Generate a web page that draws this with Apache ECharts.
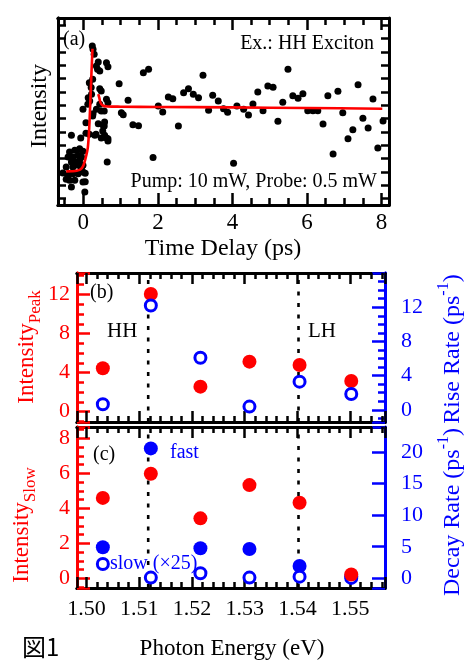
<!DOCTYPE html>
<html><head><meta charset="utf-8">
<script src="https://cdn.jsdelivr.net/npm/echarts@6/dist/echarts.min.js"></script>
<style>html,body{margin:0;padding:0;background:#fff}#c{width:473px;height:661px}</style>
</head><body><div id="c"></div>
<script>
// ---------- panel (a): pump-probe trace ----------
const delayPs = [0.24,0.26,0.29,0.40,0.35,0.38,0.44,0.62,0.66,0.96,0.44,0.48,0.13,0.17,0.22,0.62,0.66,1.20,-0.01,0.44,0.48,0.35,1.02,0.26,0.40,0.53,0.57,1.07,1.33,1.48,-0.32,-0.07,0.31,0.48,0.66,0.57,0.64,1.87,
 -0.37,-0.23,-0.10,-0.01,-0.41,-0.28,-0.14,-0.05,-0.32,-0.19,-0.10,-0.01,-0.46,-0.28,-0.14,-0.05,-0.41,-0.28,-0.14,-0.01,-0.37,-0.23,-0.01,-0.32,0.04,
 0.05,0.05,-0.55,-0.46,0.07,0.16,0.21,0.25,0.12,0.25,0.07,0.56,0.52,0.61,0.66,0.34,0.16,0.56,
 1.61,1.75,2.01,2.13,2.28,2.40,2.55,2.69,2.82,2.95,3.09,3.21,3.36,3.47,3.62,3.76,3.87,
 4.03,4.12,4.30,4.43,4.55,4.68,4.82,4.95,5.09,5.22,5.35,5.49,5.62,5.76,5.89,6.02,6.16,6.29,6.43,6.56,6.70,6.83,6.96,7.10,7.23,7.37,7.50,7.64,7.77,7.90,8.04];
const intensityA = [11.90,11.66,11.28,10.71,10.41,10.16,10.03,10.65,10.35,9.08,8.71,8.54,8.03,7.79,8.29,7.91,7.66,7.84,7.17,7.54,7.04,7.17,6.91,6.84,6.09,5.97,6.21,6.76,6.01,5.94,5.22,5.02,5.22,5.02,4.96,5.22,3.22,3.56,
 3.97,4.10,4.22,4.02,3.59,3.59,3.72,3.59,3.22,3.22,3.35,2.97,2.85,2.85,2.97,2.72,2.22,2.34,2.34,2.47,1.85,1.85,1.72,1.35,0.97,
 2.37,1.74,2.40,1.92,5.37,9.16,8.79,9.42,7.54,6.66,6.16,5.91,5.54,5.04,4.79,5.29,5.29,7.04,
 9.91,10.16,7.41,6.96,8.09,7.96,5.91,8.41,8.71,8.29,8.03,9.71,7.09,8.21,7.79,7.21,6.94,
 3.12,7.41,7.17,6.74,7.56,8.46,7.06,8.91,8.81,6.27,7.69,10.16,8.18,7.99,8.33,7.06,7.06,7.06,6.06,8.18,3.82,8.51,6.91,4.96,5.64,9.01,6.49,5.76,7.94,4.27,6.29];
const fitRiseT = [-0.46,-0.30,-0.18,-0.08,0.00,0.06,0.12,0.16,0.19,0.215,0.245];
const fitRiseI = [2.52,2.53,2.56,2.66,2.95,3.50,4.30,5.90,7.90,9.70,11.70];
const fitDecayT = [0.40,0.43,0.46,0.52,0.65,1.0,2.0,4.0,6.0,8.02];
const fitDecayI = [8.30,8.00,7.65,7.45,7.38,7.36,7.34,7.31,7.26,7.21];

// ---------- panels (b) and (c) ----------
const photonEnergy  = [1.5031,1.5122,1.5216,1.5309,1.5404,1.5502];
const intensityPeak = [4.44,12.05,2.56,5.12,4.78,3.14];
const riseRate      = [0.66,12.2,6.1,0.38,3.3,1.85];
const intensitySlow = [4.6,5.98,3.43,5.33,4.32,0.22];
const decayFast     = [4.92,20.6,4.76,4.65,1.95,0.3];
const decaySlow25   = [2.27,0.1,0.8,0.1,0.25,0.05];
const excitonLines  = [1.5117,1.5402];

const RED='#ff0000', BLUE='#0000ff', BLK='#000000', SERIF='Liberation Serif';
const zip=(a,b)=>a.map((v,i)=>[v,b[i]]);
const isInt=v=>Math.abs(v-Math.round(v))<1e-9;

function ax(o){
  const c=o.color||BLK;
  return {
    type:'value', gridIndex:o.g, position:o.pos, min:o.min, max:o.max, splitNumber:o.split,
    splitLine:{show:false}, axisPointer:{show:false},
    axisLine:{show:true,onZero:false,lineStyle:{color:c,width:3}},
    axisTick:{show:o.len>0,inside:true,length:o.len||0,lineStyle:{color:c,width:2.5}},
    axisLabel:{show:!!o.fmt,formatter:o.fmt,fontSize:o.fs||22,fontFamily:SERIF,color:c,margin:o.margin||8,showMinLabel:true,showMaxLabel:true},
    silent:true
  };
}
const E0=1.4982,E1=1.5566;
const fmtT=v=>isInt(v)?String(Math.round(v)):'';
const fmtE=v=>{const k=v*100;return Math.abs(k-Math.round(k))<1e-6?v.toFixed(2):'';};

const xAxis=[
  ax({g:0,pos:'bottom',min:-0.68,max:8.2,split:4,len:12,fmt:fmtT,fs:23,margin:6}),
  ax({g:0,pos:'bottom',min:-0.68,max:8.2,split:18,len:7}),
  ax({g:0,pos:'top',min:-0.68,max:8.2,split:4,len:12}),
  ax({g:0,pos:'top',min:-0.68,max:8.2,split:18,len:7}),
  ax({g:1,pos:'bottom',min:E0,max:E1,split:5,len:11}),
  ax({g:1,pos:'bottom',min:E0,max:E1,split:29,len:6}),
  ax({g:1,pos:'top',min:E0,max:E1,split:5,len:11}),
  ax({g:1,pos:'top',min:E0,max:E1,split:29,len:6}),
  ax({g:2,pos:'bottom',min:E0,max:E1,split:5,len:11,fmt:fmtE,fs:22,margin:10}),
  ax({g:2,pos:'bottom',min:E0,max:E1,split:29,len:6}),
  ax({g:2,pos:'top',min:E0,max:E1,split:5,len:11}),
  ax({g:2,pos:'top',min:E0,max:E1,split:29,len:6})
];
const B_LEFT=[-1.06,14.2], B_RIGHT=[-1.42,16], C_LEFT=[-0.55,8.65], C_RIGHT=[-1.55,24];
const yAxis=[
  ax({g:0,pos:'left',min:0,max:14,split:14,len:0}),
  ax({g:0,pos:'left',min:-0.47,max:13.53,split:14,len:8}),
  ax({g:0,pos:'right',min:-0.47,max:13.53,split:14,len:8}),
  ax({g:1,pos:'left',min:B_LEFT[0],max:B_LEFT[1],split:15,len:7,color:RED,fmt:v=>(isInt(v)&&v>=0&&Math.round(v)%4===0)?String(Math.round(v)):'',margin:7}),
  ax({g:1,pos:'left',min:B_LEFT[0]/4,max:B_LEFT[1]/4,split:4,len:13,color:RED}),
  ax({g:1,pos:'right',min:B_RIGHT[0],max:B_RIGHT[1],split:17,len:7,color:BLUE,fmt:v=>(isInt(v)&&v>=0&&v<=12&&Math.round(v)%4===0)?String(Math.round(v)):'',margin:16}),
  ax({g:1,pos:'right',min:B_RIGHT[0]/4,max:B_RIGHT[1]/4,split:4,len:13,color:BLUE}),
  ax({g:2,pos:'left',min:C_LEFT[0],max:C_LEFT[1],split:18,len:7,color:RED,fmt:v=>(isInt(v)&&v>=0&&Math.round(v)%2===0)?String(Math.round(v)):'',margin:7}),
  ax({g:2,pos:'left',min:C_LEFT[0],max:C_LEFT[1],split:5,len:13,color:RED}),
  ax({g:2,pos:'right',min:C_RIGHT[0],max:C_RIGHT[1],split:5,len:13,color:BLUE,fmt:v=>(isInt(v)&&v>=0&&Math.round(v)%5===0)?String(Math.round(v)):'',margin:16})
];

const dotted={color:BLK,type:[4,7.5],width:2.6,opacity:1};
function vline(x,xi,yi,range){
  return {type:'line',xAxisIndex:xi,yAxisIndex:yi,data:[[x,range[0]],[x,range[1]]],showSymbol:false,
    lineStyle:dotted,z:1,silent:true,clip:true};
}
const scatterStyle=(c)=>({color:c,opacity:1});
const openStyle={color:'#ffffff',borderColor:BLUE,borderWidth:3,opacity:1};

const series=[
  {type:'scatter',xAxisIndex:0,yAxisIndex:0,data:zip(delayPs,intensityA),symbolSize:7,itemStyle:scatterStyle(BLK),z:3,silent:true},
  {type:'line',xAxisIndex:0,yAxisIndex:0,data:zip(fitRiseT,fitRiseI),showSymbol:false,smooth:0.3,lineStyle:{color:RED,width:2.6,opacity:1},z:4,silent:true},
  {type:'line',xAxisIndex:0,yAxisIndex:0,data:zip(fitDecayT,fitDecayI),showSymbol:false,smooth:0.3,lineStyle:{color:RED,width:2.6,opacity:1},z:4,silent:true},
  ...excitonLines.map(x=>vline(x,4,3,B_LEFT)),
  ...excitonLines.map(x=>vline(x,8,7,C_LEFT)),
  {type:'scatter',xAxisIndex:4,yAxisIndex:3,data:zip(photonEnergy,intensityPeak),symbolSize:14,itemStyle:scatterStyle(RED),z:3,silent:true},
  {type:'scatter',xAxisIndex:4,yAxisIndex:5,data:zip(photonEnergy,riseRate),symbol:'circle',symbolSize:11,itemStyle:openStyle,z:4,silent:true},
  {type:'scatter',xAxisIndex:8,yAxisIndex:9,data:zip(photonEnergy,decayFast),symbolSize:14,itemStyle:scatterStyle(BLUE),z:3,silent:true},
  {type:'scatter',xAxisIndex:8,yAxisIndex:9,data:zip(photonEnergy,decaySlow25),symbol:'circle',symbolSize:11,itemStyle:openStyle,z:4,silent:true},
  {type:'scatter',xAxisIndex:8,yAxisIndex:7,data:zip(photonEnergy,intensitySlow),symbolSize:14,itemStyle:scatterStyle(RED),z:5,silent:true}
];

function txt(t,x,y,o){
  o=o||{};
  return {type:'text',x:x,y:y,rotation:o.rot||0,silent:true,z:50,
    style:{text:t,fill:o.color||BLK,fontSize:o.fs||20,fontFamily:o.ff||SERIF,align:o.align||'left',verticalAlign:'middle',rich:o.rich}};
}
function richName(color,kind,mainSize){
  const rich={m:{fontSize:mainSize||23,fontFamily:SERIF,fill:color,lineHeight:34,verticalAlign:'middle'}};
  if(kind==='sub') rich.s={fontSize:17,fontFamily:SERIF,fill:color,lineHeight:14,verticalAlign:'bottom'};
  else rich.s={fontSize:16,fontFamily:SERIF,fill:color,lineHeight:22,verticalAlign:'top'};
  return rich;
}
const graphic=[
  txt('(a)',63,40,{fs:20}),
  txt('Ex.: HH Exciton',374,44,{fs:20,align:'right'}),
  txt('Pump: 10 mW, Probe: 0.5 mW',377,182,{fs:20,align:'right'}),
  txt('Intensity',40,106,{fs:24,align:'center',rot:Math.PI/2}),
  txt('Time Delay (ps)',223,249,{fs:24,align:'center'}),
  txt('(b)',90,293,{fs:20}),
  txt('HH',107,331,{fs:21}),
  txt('LH',308,331,{fs:21}),
  txt('(c)',93,455,{fs:20}),
  txt('fast',170,453,{fs:20,color:BLUE}),
  txt('slow (\u00d725)',110,564,{fs:20,color:BLUE}),
  txt('{m|Intensity}{s|Peak}',27,347,{align:'center',rot:Math.PI/2,rich:richName(RED,'sub')}),
  txt('{m|Intensity}{s|Slow}',22,525,{align:'center',rot:Math.PI/2,rich:richName(RED,'sub')}),
  txt('{m|Rise Rate (ps}{s|-1}{m|)}',453,349,{align:'center',rot:Math.PI/2,rich:richName(BLUE,'sup',24)}),
  txt('{m|Decay Rate (ps}{s|-1}{m|)}',453,512,{align:'center',rot:Math.PI/2,rich:richName(BLUE,'sup',24)}),
  txt('Photon Energy (eV)',232,649,{fs:23,align:'center'}),
  txt('\u56f31',22,647,{fs:24,ff:'Noto Sans CJK JP'})
];

const chart=echarts.init(document.getElementById('c'),null,{renderer:'canvas'});
chart.setOption({
  animation:false,
  backgroundColor:'#ffffff',
  grid:[
    {left:58,top:18,width:331,height:187,show:false,outerBoundsMode:'none'},
    {left:77,top:273,width:308,height:149,show:false,outerBoundsMode:'none'},
    {left:77,top:427,width:308,height:161,show:false,outerBoundsMode:'none'}
  ],
  xAxis:xAxis, yAxis:yAxis, series:series, graphic:graphic
});
</script></body></html>
